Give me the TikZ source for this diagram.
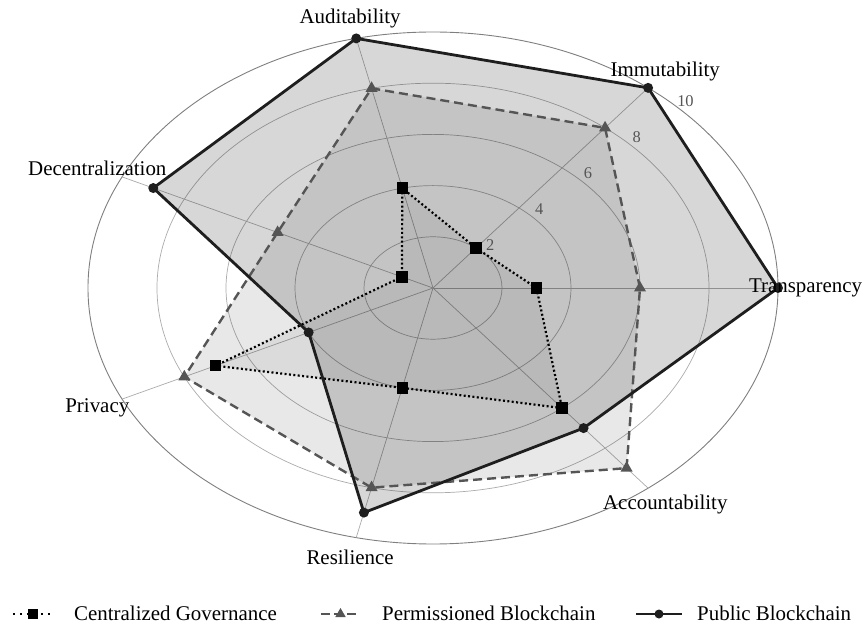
\documentclass[tikz,border=0pt]{standalone}
\usepackage{fontspec}
\setmainfont{Liberation Serif}
\usetikzlibrary{shapes.geometric}

\definecolor{ringgray}{HTML}{ABABAB}
\definecolor{rimgray}{HTML}{7F7F7F}
\definecolor{permgray}{HTML}{555555}
\definecolor{pubblack}{HTML}{1E1E1E}

\begin{document}
\begin{tikzpicture}[x=1bp,y=1bp,
  axislabel/.style={font=\fontsize{21}{25}\selectfont},
  ticklabel/.style={font=\fontsize{16.5}{19}\selectfont,text=permgray},
  legendtext/.style={font=\fontsize{21}{25}\selectfont,anchor=base west,inner sep=0pt},
  centralline/.style={line width=2.2bp,dash pattern=on 2bp off 2.4bp,black},
  permline/.style={line width=2.4bp,dash pattern=on 9bp off 5bp,permgray},
  publine/.style={line width=2.8bp,pubblack,line join=round},
  sqmark/.style={rectangle,fill=black,minimum size=11.5bp,inner sep=0pt},
  trimark/.style={regular polygon,regular polygon sides=3,fill=permgray,minimum size=14bp,inner sep=0pt},
  dotmark/.style={circle,fill=pubblack,minimum size=10bp,inner sep=0pt}]
  \useasboundingbox (-433,-335) rectangle (431,288);

  \begin{scope}[x=34.5bp,y=25.6bp]
    % grid
    \foreach \r in {2,4,6,8}
      \draw[ringgray,line width=0.7bp] (0,0) ellipse [x radius={\r*34.5bp},y radius={\r*25.6bp}];
    \draw[rimgray,line width=0.9bp] (0,0) ellipse [x radius=345bp,y radius=256bp];
    \foreach \i in {0,...,6}
      \draw[ringgray,line width=0.7bp] (0,0) -- ({\i*360/7}:10);

    % data points
    \foreach \v [count=\i from 0] in {3,2,4,1,7,4,6}
      \coordinate (c\i) at ({\i*360/7}:\v);
    \foreach \v [count=\i from 0] in {6,8,8,5,8,8,9}
      \coordinate (p\i) at ({\i*360/7}:\v);
    \foreach \v [count=\i from 0] in {10,10,10,9,4,9,7}
      \coordinate (b\i) at ({\i*360/7}:\v);

    \fill[black,fill opacity=0.09] (p0) -- (p1) -- (p2) -- (p3) -- (p4) -- (p5) -- (p6) -- cycle;
    \fill[black,fill opacity=0.155] (b0) -- (b1) -- (b2) -- (b3) -- (b4) -- (b5) -- (b6) -- cycle;
    \fill[black,fill opacity=0.055] (c0) -- (c1) -- (c2) -- (c3) -- (c4) -- (c5) -- (c6) -- cycle;

    \draw[centralline] (c0) -- (c1) -- (c2) -- (c3) -- (c4) -- (c5) -- (c6) -- cycle;
    \draw[permline] (p0) -- (p1) -- (p2) -- (p3) -- (p4) -- (p5) -- (p6) -- cycle;
    \draw[publine] (b0) -- (b1) -- (b2) -- (b3) -- (b4) -- (b5) -- (b6) -- cycle;

    \foreach \i in {0,...,6} {
      \node[sqmark] (cm\i) at (c\i) {};
      \node[trimark] (pm\i) at (p\i) {};
      \node[dotmark] (bm\i) at (b\i) {};
    }

    % labels
    \foreach \name [count=\i from 0] in {Transparency,Immutability,Auditability,Decentralization,Privacy,Resilience,Accountability}
      \node[axislabel] (lab\i) at ({\i*360/7}:10.8) {\name};
    \foreach \t in {2,4,6,8,10}
      \node[ticklabel] (tick\t) at (45:{\t+0.35}) {\t};
  \end{scope}

  % legend
  \coordinate (la1) at (-420,-326); \coordinate (lb1) at (-380,-326);
  \coordinate (la2) at (-112,-326); \coordinate (lb2) at (-73,-326);
  \coordinate (la3) at (203,-326); \coordinate (lb3) at (249,-326);
  \draw[centralline,dash pattern=on 2.5bp off 4.5bp] (la1) -- (lb1);
  \draw[permline,dash pattern=on 9bp off 4bp] (la2) -- (lb2);
  \draw[publine] (la3) -- (lb3);
  \node[sqmark,minimum size=10bp] (lm1) at (-400,-326) {};
  \node[trimark,minimum size=12bp] (lm2) at (-92.5,-326) {};
  \node[dotmark,minimum size=9bp] (lm3) at (226,-326) {};
  \node[legendtext] (lt1) at (-359,-332) {Centralized Governance};
  \node[legendtext] (lt2) at (-51,-332) {Permissioned Blockchain};
  \node[legendtext] (lt3) at (264,-332) {Public Blockchain};
\end{tikzpicture}
\end{document}
